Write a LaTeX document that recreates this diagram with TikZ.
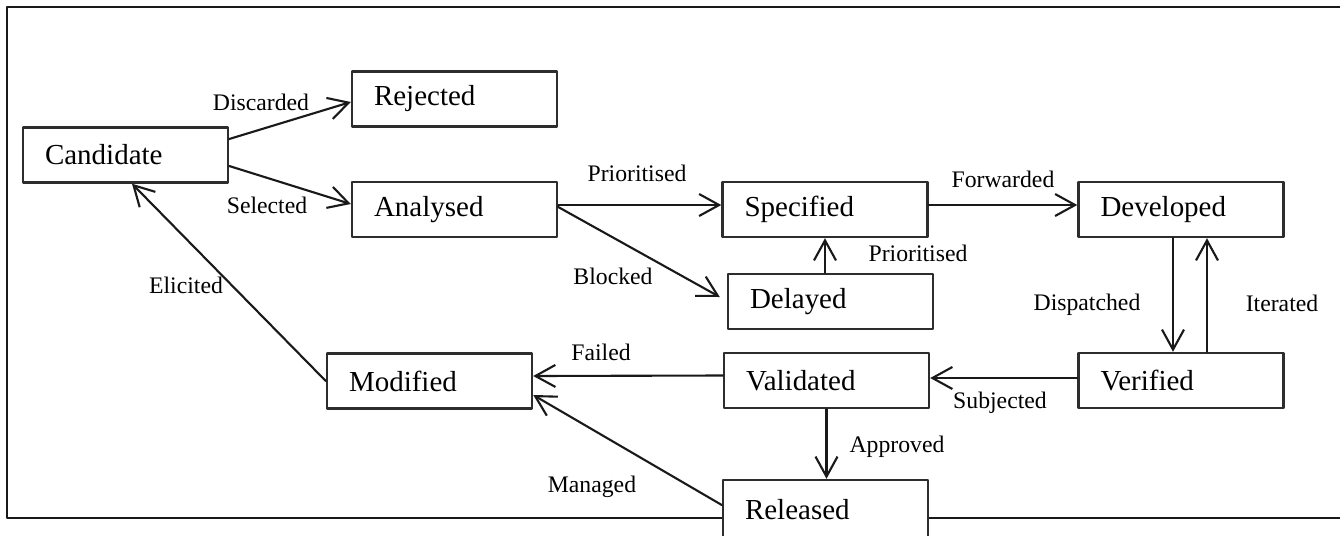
\documentclass[tikz,border=0pt]{standalone}
\usepackage{fontspec}
\setmainfont{Liberation Serif}
\usetikzlibrary{arrows.meta,calc,positioning}
\definecolor{reqline}{RGB}{45,45,45}
\definecolor{reqframe}{RGB}{25,25,25}

\begin{document}
\begin{tikzpicture}[x=0.02cm,y=-0.02cm,line cap=round,line join=round,
  >={Straight Barb[length=4mm,width=4.4mm]},
  reqbox/.style={draw=reqline,line width=1.4pt,fill=white,
    minimum width=4.1cm,minimum height=1.1cm,inner xsep=.44cm,
    text width=3.22cm,align=left,font=\fontsize{16.5}{19}\selectfont},
  trans/.style={->,line width=1.2pt,black!90},
  lab/.style={font=\fontsize{13.5}{16}\selectfont,inner sep=1pt}]
 \useasboundingbox (0,0) rectangle (1340,535);
 \draw[reqframe,line width=1.3pt] (1340,7) -- (7,7) -- (7,518) -- (1340,518);
 % states
 \node[reqbox] (cand) at (125.5,155) {Candidate};
 \node[reqbox] (rej) at (454.5,99) {Rejected};
 \node[reqbox] (anal) at (454.5,209.5) {Analysed};
 \node[reqbox] (spec) at (825,209.5) {Specified};
 \node[reqbox] (del) at (830.5,301.5) {Delayed};
 \node[reqbox] (dev) at (1181,209.5) {Developed};
 \node[reqbox] (ver) at (1181,380.5) {Verified};
 \node[reqbox] (val) at (826.5,380.5) {Validated};
 \node[reqbox] (mod) at (429.5,381) {Modified};
 \node[reqbox,minimum height=1.2cm] (rel) at (825.5,510) {Released};
 % transitions
 \draw[trans] ([yshift=.32cm]cand.east) -- ([yshift=-.06cm]rej.west);
 \draw[trans] ([yshift=-.22cm]cand.east) -- ([yshift=.11cm]anal.west);
 \draw[trans] ([yshift=.09cm]anal.east) -- ([yshift=.09cm]spec.west);
 \draw[trans] ([yshift=.05cm]anal.east) -- ([xshift=-.14cm,yshift=.09cm]del.west);
 \draw[trans] (spec.south |- del.north) -- (spec.south);
 \draw[trans] ([yshift=.09cm]spec.east) -- ([yshift=.09cm]dev.west);
 \draw[trans] ([xshift=-.16cm]dev.south) -- ([xshift=-.16cm]ver.north);
 \draw[trans] ([xshift=.52cm]ver.north) -- ([xshift=.52cm]dev.south);
 \draw[trans] ([yshift=.05cm]ver.west) -- ([yshift=.05cm]val.east);
 \draw[trans] ([yshift=.1cm]val.west) -- ([yshift=.1cm]mod.east);
 \draw[trans] (val.south) -- (val.south |- rel.north);
 \draw[trans] ([yshift=.1cm]rel.west) -- ([yshift=-.28cm]mod.east);
 \draw[trans] (mod.west) -- ([xshift=.13cm]cand.south);
 % labels
 \node[lab] (lDisc) at (261,102) {Discarded};
 \node[lab] (lSel) at (267,205) {Selected};
 \node[lab] (lPrio) at (637,173) {Prioritised};
 \node[lab] (lBlock) at (613,276) {Blocked};
 \node[lab] (lPrioDel) at (918,253) {Prioritised};
 \node[lab] (lFwd) at (1003,179) {Forwarded};
 \node[lab] (lDisp) at (1087,305) {Dispatched};
 \node[lab] (lIter) at (1282,303) {Iterated};
 \node[lab] (lSubj) at (1000,403) {Subjected};
 \node[lab] (lFail) at (601,352) {Failed};
 \node[lab] (lAppr) at (897,447) {Approved};
 \node[lab] (lMan) at (592,487) {Managed};
 \node[lab] (lElic) at (186,285) {Elicited};
\end{tikzpicture}
\end{document}
